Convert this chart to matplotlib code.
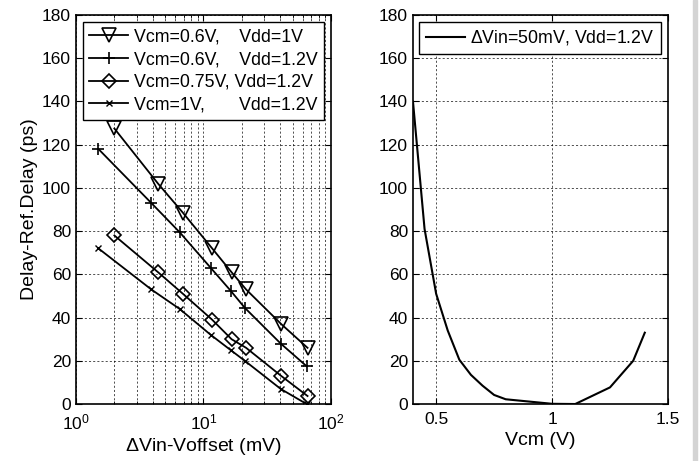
import matplotlib
matplotlib.use("Agg")
import matplotlib.pyplot as plt
from matplotlib.patches import Rectangle

plt.rcParams['font.family'] = ['Liberation Sans', 'DejaVu Sans']
plt.rcParams['font.size'] = 12.5
plt.rcParams['mathtext.fontset'] = 'custom'
plt.rcParams['mathtext.rm'] = 'Liberation Sans'

# left panel data: delay vs input difference
dvin_a = [2.0, 4.4, 6.9, 11.7, 16.6, 21.6, 40.7, 65.5]
dvin_b = [1.5, 3.9, 6.5, 11.4, 16.3, 21.1, 40.3, 64.4]
d_06_1 = [127.5, 102, 88.5, 72, 61, 53, 37, 26]
d_06_12 = [118, 93, 79.5, 63, 52.5, 44.5, 28, 17.5]
d_075_12 = [78, 61, 51, 39, 30, 26, 13, 3.7]
d_1_12 = [72, 53, 44, 32, 25, 20, 7, 0]
labels = ['Vcm=0.6V,    Vdd=1V', 'Vcm=0.6V,    Vdd=1.2V',
          'Vcm=0.75V, Vdd=1.2V', 'Vcm=1V,       Vdd=1.2V']

# right panel data: delay vs common mode voltage
vcm = [0.4, 0.45, 0.5, 0.55, 0.6, 0.65, 0.7, 0.75, 0.8, 1.0, 1.1, 1.25, 1.35, 1.4]
d_vcm = [140, 81, 51, 34, 20.5, 13.5, 8.5, 4.2, 2.2, 0.1, 0, 7.7, 20, 33]

fig = plt.figure(figsize=(6.99, 4.61), dpi=100)
ax1 = fig.add_axes([0.1087, 0.1236, 0.3648, 0.8438])
ax2 = fig.add_axes([0.5908, 0.1236, 0.3648, 0.8438])

grid_kw = dict(color='black', linestyle=(0, (2.5, 2.5)), linewidth=0.6, alpha=0.8)
leg_kw = dict(handlelength=2.2, handletextpad=0.3, borderpad=0.35, fancybox=False,
              framealpha=1, edgecolor='black', borderaxespad=0.4, fontsize=12.8)

ax1.semilogx(dvin_a, d_06_1, 'k-', marker='v', mfc='none', ms=10, mew=1.2, lw=1.3, label=labels[0])
ax1.semilogx(dvin_b, d_06_12, 'k-', marker='+', ms=8, mew=1.2, lw=1.3, label=labels[1])
ax1.semilogx(dvin_a, d_075_12, 'k-', marker='D', mfc='none', ms=7, mew=1.2, lw=1.3, label=labels[2])
ax1.semilogx(dvin_b, d_1_12, 'k-', marker='x', ms=4, mew=1.0, lw=1.3, label=labels[3])
ax1.set_xlim(1, 100)
ax1.set_ylim(0, 180)
ax1.set_yticks(range(0, 181, 20))
ax1.grid(True, which='both', **grid_kw)
ax1.set_xlabel(r'$\Delta$Vin-Voffset (mV)', fontsize=14, labelpad=3)
ax1.set_ylabel('Delay-Ref.Delay (ps)', fontsize=14, labelpad=3)
leg1 = ax1.legend(loc='upper left', labelspacing=0.32, **leg_kw)
leg1.get_frame().set_linewidth(1.0)

ax2.plot(vcm, d_vcm, 'k-', lw=1.5, label=r'$\Delta$Vin=50mV, Vdd=1.2V')
ax2.set_xlim(0.4, 1.5)
ax2.set_ylim(0, 180)
ax2.set_xticks([0.5, 1, 1.5])
ax2.set_xticklabels(['0.5', '1', '1.5'])
ax2.set_yticks(range(0, 181, 20))
ax2.grid(True, **grid_kw)
ax2.set_xlabel('Vcm (V)', fontsize=14, labelpad=3)
leg2 = ax2.legend(loc='upper right', **leg_kw)
leg2.get_frame().set_linewidth(1.0)

for ax in (ax1, ax2):
    ax.tick_params(which='both', direction='in', top=True, right=True, labelsize=12.5)
    ax.tick_params(which='major', length=4)
    ax.tick_params(which='minor', length=2.5)
    ax.tick_params(axis='x', which='both', pad=6)
    for s in ax.spines.values():
        s.set_linewidth(1.2)

fig.patches.append(Rectangle((0.9914, 0), 0.006, 1, transform=fig.transFigure,
                             color='#d4d4d4', zorder=-1))

fig.savefig('out.png', dpi=100)
